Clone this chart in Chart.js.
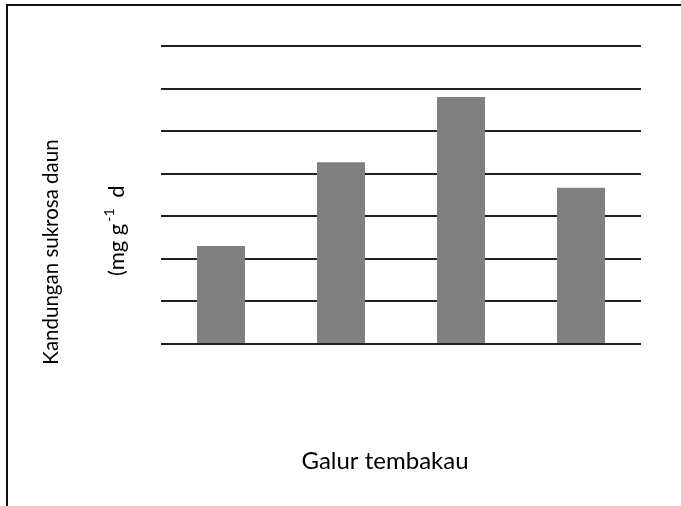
<!DOCTYPE html>
<html lang="id">
<head>
  <meta charset="UTF-8" />
  <title>Kandungan sukrosa daun per galur tembakau</title>
  <script src="https://cdn.jsdelivr.net/npm/chart.js"></script>
  <style>
    html, body {
      margin: 0;
      padding: 0;
      background: #fff;
      overflow: hidden;
    }
    .wrap {
      position: relative;
      width: 681px;
      height: 506px;
    }
    .frame {
      position: absolute;
      left: 6px;
      top: 4px;
      right: -10px;
      bottom: -10px;
      border-top: 2px solid #111;
      border-left: 2px solid #111;
      pointer-events: none;
    }
    canvas {
      position: absolute;
      left: 0;
      top: 0;
    }
  </style>
</head>
<body>
<div class="wrap">
  <canvas id="chart" width="681" height="506"></canvas>
  <div class="frame"></div>
</div>

<script>
  // galur (strains) - no category labels are printed on the original
  const categories = ['1', '2', '3', '4'];
  // sucrose content, in gridline units (axis has no printed ticks)
  const sucroseValues = [2.3, 4.27, 5.8, 3.67];
  const yMin = 0;
  const yMax = 7;
  const yStep = 1;

  const xTitle = 'Galur tembakau';
  const yTitleLine1 = 'Kandungan sukrosa daun';
  // second line is cut off in the original; [text, superscript, text]
  const yTitleLine2 = ['(mg g', '-1', ' d'];

  const FONT = 'Lato, "Open Sans", sans-serif';

  // axis titles drawn by hand: the second line needs a superscript
  const titlesPlugin = {
    id: 'titles',
    afterDraw(chart) {
      const ctx = chart.ctx;
      ctx.save();
      ctx.fillStyle = '#000';
      ctx.textBaseline = 'alphabetic';

      // x title
      ctx.font = '24px ' + FONT;
      ctx.textAlign = 'center';
      ctx.fillText(xTitle, 385, 469);

      // y title, line 1
      ctx.save();
      ctx.translate(58, 252);
      ctx.rotate(-Math.PI / 2);
      ctx.font = '20.5px ' + FONT;
      ctx.textAlign = 'center';
      ctx.fillText(yTitleLine1, 0, 0);
      ctx.restore();

      // y title, line 2 (with superscript)
      ctx.save();
      ctx.translate(124, 276);
      ctx.rotate(-Math.PI / 2);
      ctx.textAlign = 'left';
      let x = 0;
      ctx.font = '22px ' + FONT;
      ctx.fillText(yTitleLine2[0], x, 0);
      x += ctx.measureText(yTitleLine2[0]).width + 2;
      ctx.font = '14px ' + FONT;
      ctx.fillText(yTitleLine2[1], x, -10);
      x += ctx.measureText(yTitleLine2[1]).width + 5;
      ctx.font = '22px ' + FONT;
      ctx.fillText(yTitleLine2[2], x, 0);
      ctx.restore();

      ctx.restore();
    }
  };

  new Chart(document.getElementById('chart'), {
    type: 'bar',
    data: {
      labels: categories,
      datasets: [{
        label: 'Sukrosa',
        data: sucroseValues,
        backgroundColor: '#808080',
        borderWidth: 0,
        barPercentage: 0.4,
        categoryPercentage: 1.0
      }]
    },
    options: {
      responsive: false,
      animation: false,
      layout: {
        padding: { left: 161, right: 40, top: 46, bottom: 162 }
      },
      plugins: {
        legend: { display: false },
        tooltip: { enabled: false },
        title: { display: false }
      },
      scales: {
        x: {
          display: false
        },
        y: {
          min: yMin,
          max: yMax,
          ticks: { display: false, stepSize: yStep },
          grid: { color: '#202020', lineWidth: 2, drawTicks: false },
          border: { display: false }
        }
      }
    },
    plugins: [titlesPlugin]
  });
</script>
</body>
</html>
